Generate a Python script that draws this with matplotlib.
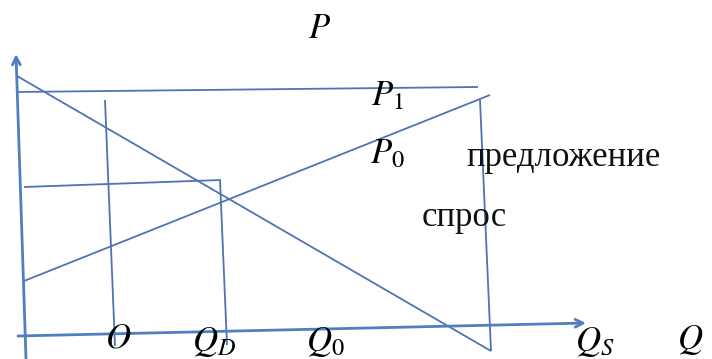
import matplotlib.pyplot as plt

plt.rcParams["font.family"] = ["Liberation Serif", "DejaVu Serif"]
plt.rcParams["mathtext.fontset"] = "stix"

LINE_COLOR = "#4f74b3"
AXIS_COLOR = "#4f7fc0"

# picture coordinates in pixels (x right, y down)
# axes: (x0, y0) -> (x1, y1), with arrow at the end
AXIS_P = [(26, 359), (16, 54)]
AXIS_Q = [(18, 336), (586, 323)]

# other segments
SEGMENTS = {
    "P1 level": [(17, 92), (478, 87)],
    "demand": [(17, 76), (491, 351)],
    "supply": [(24, 281), (490, 95)],
    "P0 level": [(24, 187), (221, 180)],
    "O line": [(105, 100), (115, 346)],
    "QD line": [(220, 180), (227, 345)],
    "QS line": [(480, 100), (491, 351)],
}

LABELS = [
    ("$P$", 320, 30, "center"),
    ("$P_1$", 387, 97, "center"),
    ("$P_0$", 387, 155, "center"),
    ("$O$", 118, 339, "center"),
    ("$Q_D$", 214, 342, "center"),
    ("$Q_0$", 325, 342, "center"),
    ("$Q_S$", 595, 342, "center"),
    ("$Q$", 690, 340, "center"),
]
WORDS = [
    ("предложение", 466, 157),
    ("спрос", 422, 217),
]

fig = plt.figure(figsize=(7.12, 3.59), dpi=100)
ax = fig.add_axes([0, 0, 1, 1])
ax.set_xlim(0, 712)
ax.set_ylim(359, 0)
ax.axis("off")

for (x0, y0), (x1, y1) in SEGMENTS.values():
    ax.plot([x0, x1], [y0, y1], color=LINE_COLOR, linewidth=1.3,
            solid_capstyle="butt")

for (x0, y0), (x1, y1) in (AXIS_P, AXIS_Q):
    ax.annotate("", xy=(x1, y1), xytext=(x0, y0),
                arrowprops=dict(arrowstyle="->", color=AXIS_COLOR, lw=2.0,
                                mutation_scale=14, shrinkA=0, shrinkB=0))

for txt, x, y, ha in LABELS:
    ax.text(x, y, txt, fontsize=25, ha=ha, va="center", color="black")

for txt, x, y in WORDS:
    ax.text(x, y, txt, fontsize=25, ha="left", va="center", color="#111111")

fig.savefig("out.png", dpi=100)
